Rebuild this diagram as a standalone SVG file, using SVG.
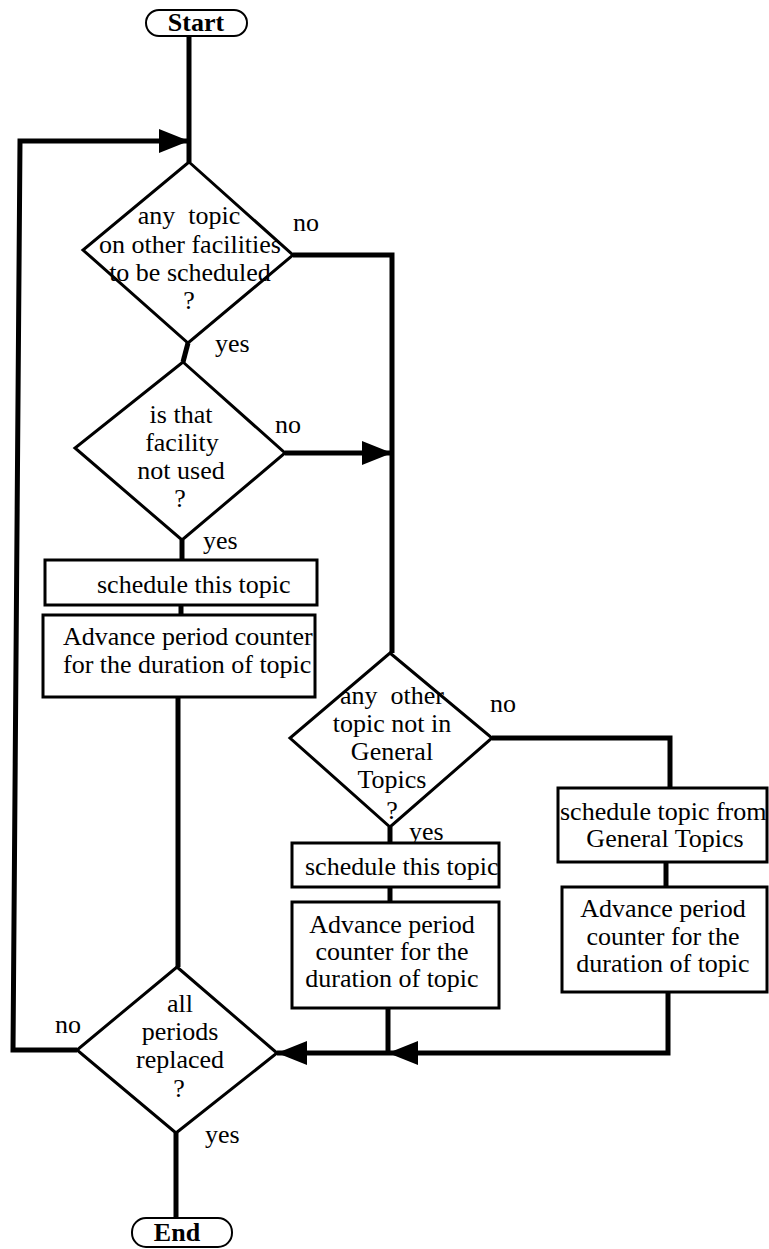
<svg xmlns="http://www.w3.org/2000/svg" width="769" height="1249" viewBox="0 0 769 1249">
<style>
.bg{fill:#fff}
.shape{fill:#fff;stroke:#000;stroke-width:3}
.term{fill:#fff;stroke:#000;stroke-width:2}
.conn{fill:none;stroke:#000;stroke-width:5;stroke-linejoin:miter}
text{font-family:"Liberation Serif","Times New Roman",serif;font-size:26px;fill:#000}
.c{text-anchor:middle}
.b{font-weight:bold}
</style>
<defs>
<marker id="arrow" viewBox="0 0 30 24" refX="30" refY="12" markerWidth="30" markerHeight="24" markerUnits="userSpaceOnUse" orient="auto">
<path d="M0,0 L30,12 L0,24 z" fill="#000"/>
</marker>
</defs>
<rect class="bg" x="0" y="0" width="769" height="1249"/>
<g id="connectors">
<path class="conn" d="M189,36 V162"/>
<path class="conn" d="M77,1050 H13 L20,141 H189" marker-end="url(#arrow)"/>
<path class="conn" d="M293,255 H392 V653"/>
<path class="conn" d="M188,343 L183,362"/>
<path class="conn" d="M285,453 H392" marker-end="url(#arrow)"/>
<path class="conn" d="M182,540 V560"/>
<path class="conn" d="M181,605 V615"/>
<path class="conn" d="M178,697 V967"/>
<path class="conn" d="M390,827 V843"/>
<path class="conn" d="M390,887 V902"/>
<path class="conn" d="M388,1008 V1053"/>
<path class="conn" d="M492,738 H670 V788"/>
<path class="conn" d="M666,862 V887"/>
<path class="conn" d="M668,992 V1053 H388" marker-end="url(#arrow)"/>
<path class="conn" d="M388,1053 H277" marker-end="url(#arrow)"/>
<path class="conn" d="M176,1133 V1218"/>
</g>
<g id="start">
<rect class="term" x="146" y="10" width="101" height="26" rx="13"/>
<text class="c b" x="196" y="31">Start</text>
</g>
<g id="d1">
<polygon class="shape" points="189,162 293,255 188,343 83,250"/>
<text class="c" x="189" y="224" xml:space="preserve">any  topic</text>
<text class="c" x="190" y="253">on other facilities</text>
<text class="c" x="190" y="281">to be scheduled</text>
<text class="c" x="189" y="309">?</text>
<text x="293" y="231">no</text>
<text x="215" y="352">yes</text>
</g>
<g id="d2">
<polygon class="shape" points="183,362 285,453 182,540 75,448"/>
<text class="c" x="181" y="423">is that</text>
<text class="c" x="182" y="451">facility</text>
<text class="c" x="181" y="479">not used</text>
<text class="c" x="180" y="507">?</text>
<text x="275" y="433">no</text>
<text x="203" y="549">yes</text>
</g>
<g id="r1">
<rect class="shape" x="45" y="560" width="272" height="45"/>
<text x="97" y="593">schedule this topic</text>
</g>
<g id="r2">
<rect class="shape" x="43" y="615" width="272" height="82"/>
<text x="63" y="645">Advance period counter</text>
<text x="63" y="673">for the duration of topic</text>
</g>
<g id="d3">
<polygon class="shape" points="390,653 492,738 390,827 290,738"/>
<text class="c" x="392" y="704" xml:space="preserve">any  other</text>
<text class="c" x="392" y="732">topic not in</text>
<text class="c" x="392" y="760">General</text>
<text class="c" x="392" y="788">Topics</text>
<text class="c" x="392" y="819">?</text>
<text x="409" y="840">yes</text>
<text x="490" y="712">no</text>
</g>
<g id="r3">
<rect class="shape" x="292" y="843" width="207" height="44"/>
<text x="305" y="875">schedule this topic</text>
</g>
<g id="r4">
<rect class="shape" x="292" y="902" width="207" height="106"/>
<text class="c" x="392" y="933">Advance period</text>
<text class="c" x="392" y="960">counter for the</text>
<text class="c" x="392" y="987">duration of topic</text>
</g>
<g id="r5">
<rect class="shape" x="558" y="788" width="209" height="74"/>
<text x="560" y="820">schedule topic from</text>
<text class="c" x="665" y="847">General Topics</text>
</g>
<g id="r6">
<rect class="shape" x="562" y="887" width="205" height="105"/>
<text class="c" x="663" y="917">Advance period</text>
<text class="c" x="663" y="945">counter for the</text>
<text class="c" x="663" y="972">duration of topic</text>
</g>
<g id="d4">
<polygon class="shape" points="177,967 277,1053 176,1133 77,1050"/>
<text class="c" x="180" y="1012">all</text>
<text class="c" x="180" y="1040">periods</text>
<text class="c" x="180" y="1068">replaced</text>
<text class="c" x="179" y="1097">?</text>
<text x="55" y="1033">no</text>
<text x="205" y="1143">yes</text>
</g>
<g id="end">
<rect class="term" x="132" y="1218" width="100" height="29" rx="14"/>
<text class="c b" x="177" y="1241">End</text>
</g>
</svg>
